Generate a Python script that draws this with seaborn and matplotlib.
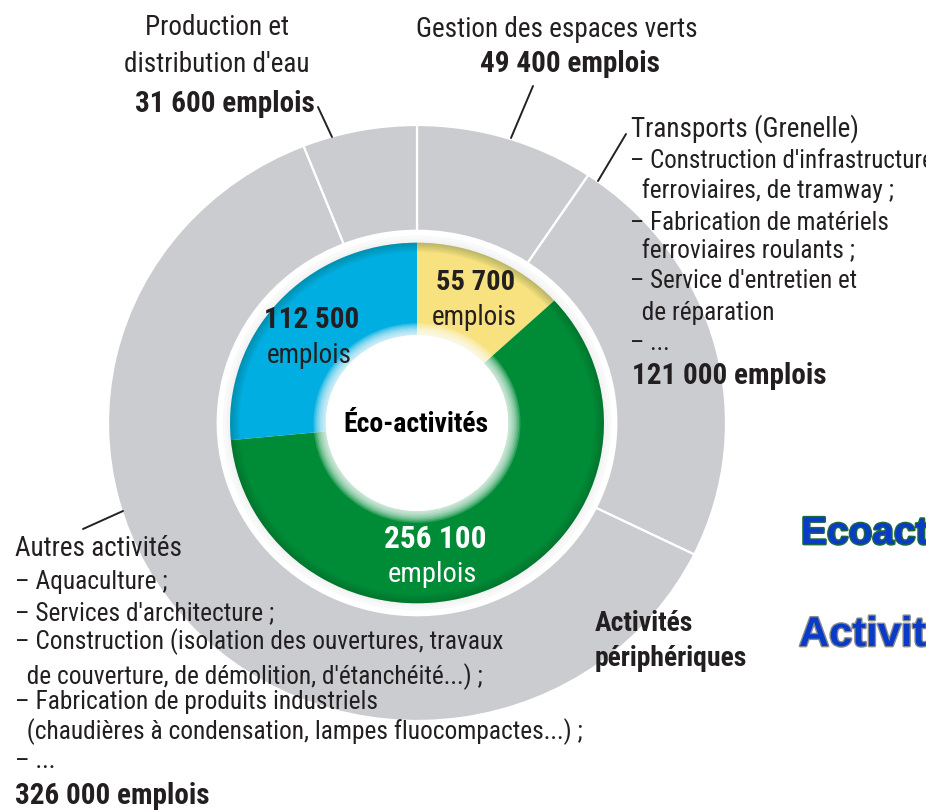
import matplotlib
matplotlib.use("Agg")
import matplotlib.pyplot as plt
import matplotlib.patheffects as pe
from matplotlib import font_manager
from matplotlib.patches import Circle, Wedge
import seaborn as sns

# ---------------- data ----------------
outer_labels = ["Gestion des espaces verts", "Transports (Grenelle)",
                "Autres activités", "Production et distribution d'eau"]
outer_values = [49400, 121000, 326000, 31600]

inner_labels = ["Éco-activités A", "Éco-activités B", "Éco-activités C"]
inner_values = [55700, 256100, 112500]
inner_value_texts = ["55 700", "256 100", "112 500"]

prod_lines = ["Production et", "distribution d'eau"]
prod_value = "31 600 emplois"
gest_lines = ["Gestion des espaces verts"]
gest_value = "49 400 emplois"
trans_lines = ["Transports (Grenelle)", "– Construction d'infrastructures",
               "  ferroviaires, de tramway ;", "– Fabrication de matériels",
               "  ferroviaires roulants ;", "– Service d'entretien et",
               "  de réparation", "– ..."]
trans_value = "121 000 emplois"
autres_lines = ["Autres activités", "– Aquaculture ;", "– Services d'architecture ;",
                "– Construction (isolation des ouvertures, travaux",
                "  de couverture, de démolition, d'étanchéité...) ;",
                "– Fabrication de produits industriels",
                "  (chaudières à condensation, lampes fluocompactes...) ;",
                "– ..."]
autres_value = "326 000 emplois"
center_label = "Éco-activités"
peri_label = ["Activités", "périphériques"]
legend_labels = ["Ecoactivités", "Activités périphériques"]

# ---------------- style ----------------
sns.set_theme(style="white")
names = {f.name for f in font_manager.fontManager.ttflist}
FONT = None
for cand in ["Liberation Sans Narrow", "Roboto Condensed", "Open Sans Condensed"]:
    if cand in names:
        FONT = cand
        break
STRETCH = "normal"
if FONT is None:
    FONT = "DejaVu Sans"
    STRETCH = "condensed"
SCALE = 1.0 if STRETCH == "normal" else 0.8
plt.rcParams["font.family"] = [FONT, "DejaVu Sans"]

palette = sns.color_palette(["#F8E27F", "#008C37", "#00AEE1"])
outer_color = "#CBCCD0"
TXT = "#231F20"

W, H = 926, 812
fig = plt.figure(figsize=(W / 100, H / 100), dpi=100)

# ring axes (slightly elliptical like the reference)
cx, cy, rx, ry = 417, 424, 309, 298
axr = fig.add_axes([(cx - rx) / W, 1 - (cy + ry) / H, 2 * rx / W, 2 * ry / H])
axr.pie(outer_values, radius=1.0, startangle=90, counterclock=False,
        colors=[outer_color] * len(outer_values),
        wedgeprops=dict(width=0.355, edgecolor="white", linewidth=1.6))
# soft shadow around inner ring
for k in range(6):
    axr.add_patch(Circle((0, 0), 0.605 + 0.004 * (6 - k), facecolor="#9AA3A0",
                         alpha=0.06, edgecolor="none", zorder=2))
axr.add_patch(Circle((0, 0), 0.625, facecolor="white", edgecolor="none", zorder=2, alpha=0.6))
wedges, _ = axr.pie(inner_values, radius=0.605, startangle=90, counterclock=False,
                    colors=palette,
                    wedgeprops=dict(width=0.31, edgecolor="none", linewidth=0))
for w in wedges:
    w.set_zorder(3)
# darker rim on outer edge of inner ring
for k in range(5):
    axr.add_patch(Wedge((0, 0), 0.605, 0, 360, width=0.006 * (k + 1),
                        facecolor="#0B3A1E", alpha=0.05, edgecolor="none", zorder=4))
# feathered hole
for k in range(8):
    axr.add_patch(Circle((0, 0), 0.295 + 0.005 * (8 - k), facecolor="white",
                         alpha=0.18, edgecolor="none", zorder=5))
axr.add_patch(Circle((0, 0), 0.295, facecolor="white", edgecolor="none", zorder=6))
axr.set_aspect("auto")
axr.set_xlim(-1, 1)
axr.set_ylim(-1, 1)
axr.axis("off")

# overlay axes in pixel coordinates
ax = fig.add_axes([0, 0, 1, 1])
ax.set_xlim(0, W)
ax.set_ylim(H, 0)
ax.axis("off")
ax.patch.set_alpha(0)


def t(x, y, s, size, bold=False, ha="left", color=TXT, **kw):
    ax.text(x, y, s, fontsize=size * SCALE, fontweight="bold" if bold else "normal",
            ha=ha, va="baseline", color=color, fontstretch=STRETCH, **kw)


HS = 19.5   # header size
BS = 21     # bold value size
LS = 18.3   # list size

# Production
for s, y in zip(prod_lines, [35, 72]):
    t(217, y, s, HS, ha="center")
t(225, 112, prod_value, BS, bold=True, ha="center")
ax.plot([318, 332], [108, 138], color="#222", lw=1.4)

# Gestion
t(557, 37, gest_lines[0], HS, ha="center")
t(570, 72, gest_value, BS, bold=True, ha="center")
ax.plot([533, 511], [87, 139], color="#222", lw=1.4)

# Transports
t(631, 137, trans_lines[0], HS)
trans_y = [168, 198, 230, 258, 288, 320, 350]
for s, y in zip(trans_lines[1:], trans_y):
    t(630, y, s, LS if s.startswith("  ") else 18.0)
t(632, 384, trans_value, BS, bold=True)
ax.plot([626, 598], [135, 182], color="#222", lw=1.4)

# Autres
t(15, 556, autres_lines[0], HS)
autres_y = [589, 620, 649, 684, 709, 739, 768]
for s, y in zip(autres_lines[1:], autres_y):
    t(15, y, s, LS)
t(15, 804, autres_value, BS, bold=True)
ax.plot([83, 123], [530, 512], color="#222", lw=1.4)

# inner labels
t(476, 290, inner_value_texts[0], 20.5, bold=True, ha="center")
t(474, 325, "emplois", HS, ha="center")
t(312, 328, inner_value_texts[2], 21, bold=True, ha="center")
t(309, 363, "emplois", HS, ha="center")
t(435, 548, inner_value_texts[1], 22.5, bold=True, ha="center", color="white")
t(432, 582, "emplois", 20.5, ha="center", color="white")
t(416, 432, center_label, 20, bold=True, ha="center", color="black")

# peripheral label
t(595, 631, peri_label[0], 20, bold=True)
t(595, 666, peri_label[1], 20, bold=True)

# legend-like titles cut at the right edge (as in the reference)
ax.text(801, 545, legend_labels[0], fontsize=28, fontweight="bold", color="#0A3BC8",
        family="Liberation Sans", va="baseline", ha="left", clip_on=False,
        path_effects=[pe.withStroke(linewidth=2, foreground="#1B6B3A")])
ax.text(799, 647, legend_labels[1], fontsize=30, fontweight="bold", color="#0A3BC8",
        family="Liberation Sans", va="baseline", ha="left", clip_on=False,
        path_effects=[pe.withStroke(linewidth=2, foreground="#8A8A8A")])

fig.savefig("out.png", dpi=100)
